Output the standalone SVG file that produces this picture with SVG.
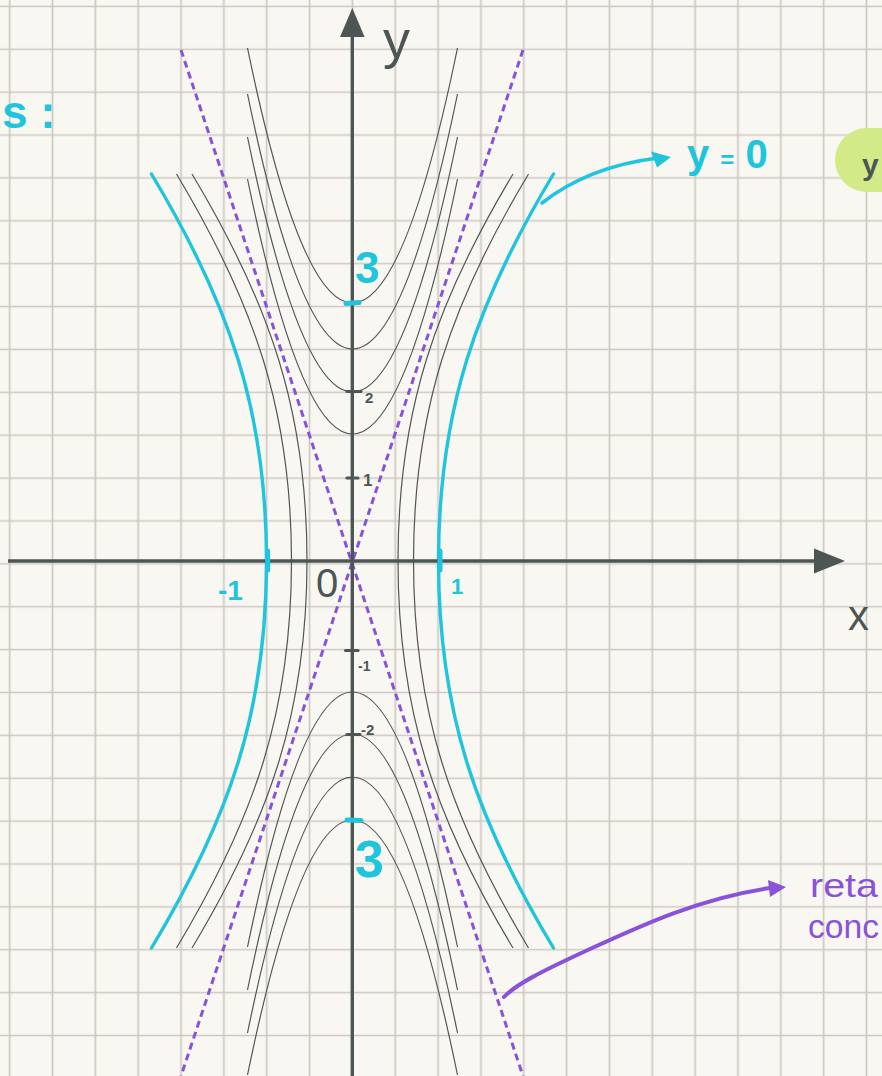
<svg xmlns="http://www.w3.org/2000/svg" width="882" height="1076" viewBox="0 0 882 1076">
<defs>
<pattern id="grid" x="-11.72" y="-15.04" width="42.84" height="42.88" patternUnits="userSpaceOnUse">
<path d="M21.42,0 V42.88 M0,21.44 H42.84" stroke="#cdc8c1" stroke-width="1.7" fill="none"/>
</pattern>
<style>
.gray{fill:none;stroke:#4f5756;stroke-width:1.2}
.cyan{fill:none;stroke:#1fc5dc;stroke-width:3.4;stroke-linecap:round}
.asym{fill:none;stroke:#8a52d8;stroke-width:3;stroke-dasharray:7 4.5}
.axis{stroke:#4c5655;stroke-width:3.4;fill:none}
.axhead{fill:#4c5655}
.ctick{stroke:#1fc5dc;stroke-width:5;stroke-linecap:round}
.dtick{stroke:#4c5655;stroke-width:3.2;stroke-linecap:round}
.lblc{font-family:"Liberation Sans",Arial,sans-serif;font-weight:bold;fill:#1fc5dc}
.lbld{font-family:"Liberation Sans",Arial,sans-serif;fill:#4c5655}
.small{font-family:"Liberation Sans",Arial,sans-serif;font-weight:bold;fill:#4c5655}
.lblp{font-family:"Liberation Sans",Arial,sans-serif;fill:#8a52d8}
</style>
</defs>
<rect width="882" height="1076" fill="#f9f7f2"/>
<rect width="882" height="1076" fill="url(#grid)"/>

<g id="highlight">
<rect x="835" y="128" width="80" height="64" rx="32" fill="#d3ea88"/>
<text class="lbld" x="862" y="175" font-size="30" font-weight="bold">y</text>
</g>

<g id="curves" transform="translate(352.5,561)">
<g id="top-family">
<path class="gray" d="M-105,-382 Q0,128 105,-382"/>
<path class="gray" d="M-105,-424 Q0,86 105,-424"/>
<path class="gray" d="M-105,-467 Q0,43 105,-467"/>
<path class="gray" d="M-105,-513 Q0,-3 105,-513"/>
</g>
<g id="bottom-family">
<path class="gray" d="M-105,386 Q0,-124 105,386"/>
<path class="gray" d="M-105,429 Q0,-83 105,429"/>
<path class="gray" d="M-105,472 Q0,-40 105,472"/>
<path class="gray" d="M-105,514 Q0,4 105,514"/>
</g>
<g id="side-family">
<path class="gray" d="M-176,-387 C-98,-257 -61,-150 -61,0 C-61,150 -98,257 -176,387"/>
<path class="gray" d="M-160.5,-387 C-82.5,-257 -45.5,-150 -45.5,0 C-45.5,150 -82.5,257 -160.5,387"/>
<path class="gray" d="M176,-387 C98,-257 61,-150 61,0 C61,150 98,257 176,387"/>
<path class="gray" d="M160.5,-387 C82.5,-257 45.5,-150 45.5,0 C45.5,150 82.5,257 160.5,387"/>
</g>
<g id="cyan-hyperbola">
<path class="cyan" d="M-201,-387 C-123,-257 -86,-150 -86,0 C-86,150 -123,257 -201,387"/>
<path class="cyan" d="M201,-387 C123,-257 86,-150 86,0 C86,150 123,257 201,387"/>
</g>
</g>

<g id="asymptotes">
<line class="asym" x1="181" y1="50" x2="523" y2="1076"/>
<line class="asym" x1="523" y1="50" x2="181" y2="1076"/>
</g>

<g id="axes">
<line class="axis" x1="352.3" y1="34" x2="352.3" y2="1076"/>
<polygon class="axhead" points="352.3,8 340,37 364.6,37"/>
<line class="axis" x1="8" y1="561" x2="818" y2="561"/>
<polygon class="axhead" points="845,561 814,548.5 814,573.5"/>
<text class="lbld" x="383" y="58" font-size="54">y</text>
<text class="lbld" x="848" y="630" font-size="42">x</text>
<text class="lbld" x="316" y="597" font-size="40">0</text>
</g>

<g id="ticks">
<line class="ctick" x1="346" y1="303.5" x2="359" y2="302.5"/>
<line class="ctick" x1="347" y1="820" x2="361" y2="820.5"/>
<line class="ctick" x1="267.6" y1="551" x2="267.8" y2="570"/>
<line class="ctick" x1="440" y1="551" x2="440" y2="570"/>
<line class="dtick" x1="347" y1="391.5" x2="361" y2="391.5"/>
<line class="dtick" x1="347" y1="478" x2="358" y2="478"/>
<line class="dtick" x1="345.5" y1="650.5" x2="358" y2="650.5"/>
<line class="dtick" x1="347" y1="734.5" x2="360" y2="734.5"/>
<text class="small" x="365" y="403" font-size="15">2</text>
<text class="small" x="363" y="486" font-size="17">1</text>
<text class="small" x="358" y="671" font-size="14">-1</text>
<text class="small" x="361" y="735" font-size="15">-2</text>
<text class="lblc" x="355" y="283" font-size="44">3</text>
<text class="lblc" x="355" y="877" font-size="52">3</text>
<text class="lblc" x="218" y="600" font-size="28">-1</text>
<text class="lblc" x="451" y="594" font-size="22">1</text>
</g>

<g id="connectors">
<path d="M542,203 C565,185 600,165 658,158" fill="none" stroke="#1fc5dc" stroke-width="3.6" stroke-linecap="round"/>
<polygon points="671,157 651,151.5 657,167.5" fill="#1fc5dc"/>
<path d="M504,997 C515,985 540,972 590,949 S700,898 770,888" fill="none" stroke="#8a52d8" stroke-width="4" stroke-linecap="round"/>
<polygon points="786,887 768,880 770,897" fill="#8a52d8"/>
</g>

<g id="labels">
<text class="lblc" x="687" y="168" font-size="40">y <tspan font-size="24">=</tspan> 0</text>
<text class="lblp" x="810" y="897" font-size="34" textLength="68" lengthAdjust="spacingAndGlyphs">reta</text>
<text class="lblp" x="808" y="938" font-size="34" textLength="71" lengthAdjust="spacingAndGlyphs">conc</text>
<text class="lblc" x="2" y="128" font-size="46">s :</text>
</g>
</svg>
